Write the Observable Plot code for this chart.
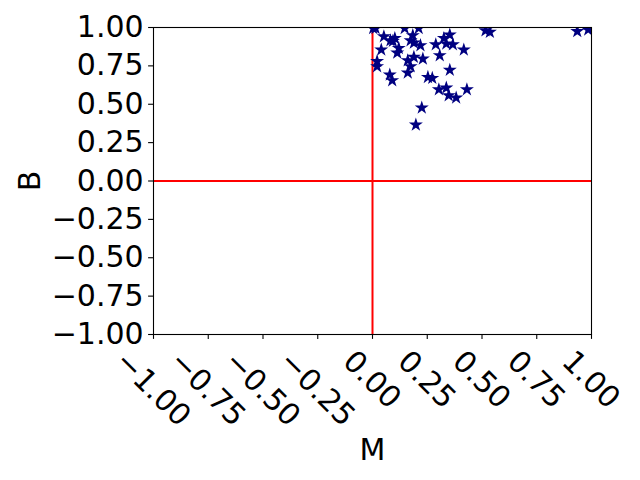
<!DOCTYPE html>
<html>
<head>
<meta charset="utf-8">
<script src="https://cdn.jsdelivr.net/npm/d3@7"></script>
<script src="https://cdn.jsdelivr.net/npm/@observablehq/plot@0.6"></script>
<style>
  html, body { margin: 0; padding: 0; background: #fff; }
  #chart { width: 640px; height: 480px; }
</style>
</head>
<body>
<div id="chart"></div>
<script>
const M = [0.003, 0.014, 0.052, 0.147, 0.211, 0.184, 0.082, 0.093, 0.102, 0.174,
           0.189, 0.219, 0.326, 0.353, 0.337, 0.367, 0.289, 0.417, 0.120, 0.113,
           0.040, 0.307, 0.189, 0.161, 0.230, 0.021, 0.021, 0.174, 0.161, 0.353,
           0.079, 0.090, 0.253, 0.273, 0.303, 0.337, 0.431, 0.348, 0.382, 0.225,
           0.198, 0.516, 0.536, 0.935, 0.985];
const B = [0.995, 0.995, 0.941, 0.995, 0.995, 0.948, 0.915, 0.911, 0.930, 0.915,
           0.900, 0.883, 0.930, 0.952, 0.894, 0.889, 0.889, 0.855, 0.865, 0.835,
           0.855, 0.818, 0.807, 0.785, 0.796, 0.780, 0.746, 0.746, 0.705, 0.723,
           0.692, 0.655, 0.676, 0.670, 0.596, 0.607, 0.596, 0.557, 0.542, 0.477,
           0.366, 0.980, 0.970, 0.975, 0.985];
const xTicksNeg = [-1, -0.75, -0.5, -0.25];
const xTicksPos = [0, 0.25, 0.5, 0.75, 1];
const yTicks = [-1, -0.75, -0.5, -0.25, 0, 0.25, 0.5, 0.75, 1];
const xLabel = "M";
const yLabel = "B";

const points = M.map((m, i) => ({M: m, B: B[i]}));
const fmt = d3.format(".2f");
const FS = 30;

const chart = Plot.plot({
  width: 640,
  height: 480,
  marginLeft: 153,
  marginRight: 49,
  marginTop: 27,
  marginBottom: 146,
  style: {fontFamily: "DejaVu Sans", fontSize: FS + "px", background: "#fff", color: "#000", overflow: "visible"},
  x: {domain: [-1, 1], axis: null},
  y: {domain: [-1, 1], axis: null},
  marks: [
    Plot.ruleX([0], {stroke: "red", strokeWidth: 2}),
    Plot.ruleY([0], {stroke: "red", strokeWidth: 2}),
    Plot.dot(points, {x: "M", y: "B", symbol: "star", r: 4.4, fill: "#000080", stroke: "none", clip: true}),
    Plot.frame({stroke: "#000", strokeWidth: 1.1}),
    Plot.axisY({ticks: yTicks, tickFormat: fmt, tickSize: 4.9, tickPadding: 5, fontSize: FS, label: null, strokeWidth: 1.1}),
    Plot.axisX({ticks: [...xTicksNeg, ...xTicksPos], tickFormat: () => "", tickSize: 4.9, label: null, strokeWidth: 1.1}),
    Plot.text(xTicksNeg, {x: d => d, text: d => fmt(d), frameAnchor: "bottom", dx: -25, dy: 13.5, rotate: 45, textAnchor: "start", lineAnchor: "top", fontSize: FS}),
    Plot.text(xTicksPos, {x: d => d, text: d => fmt(d), frameAnchor: "bottom", dx: -16, dy: 13.5, rotate: 45, textAnchor: "start", lineAnchor: "top", fontSize: FS}),
    Plot.text([yLabel], {frameAnchor: "left", dx: -123, rotate: -90, fontSize: FS, textAnchor: "middle", lineAnchor: "middle"}),
    Plot.text([xLabel], {frameAnchor: "bottom", dy: 116, fontSize: FS, textAnchor: "middle", lineAnchor: "middle"})
  ]
});
document.getElementById("chart").appendChild(chart);
</script>
</body>
</html>
